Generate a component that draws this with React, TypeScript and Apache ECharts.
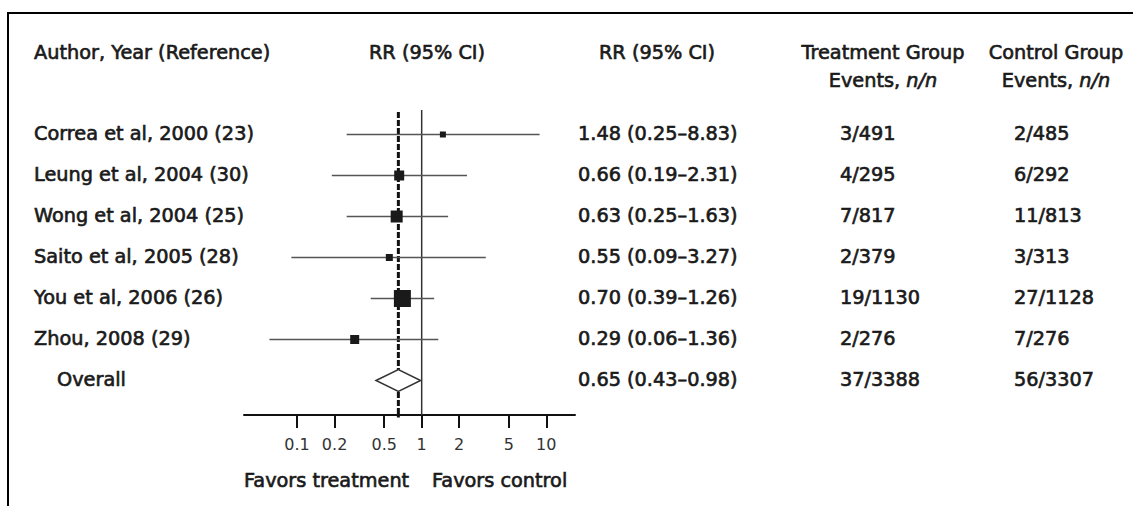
import React, { useEffect, useRef } from "react";
import * as echarts from "echarts";

const studies = [
  "Correa et al, 2000 (23)",
  "Leung et al, 2004 (30)",
  "Wong et al, 2004 (25)",
  "Saito et al, 2005 (28)",
  "You et al, 2006 (26)",
  "Zhou, 2008 (29)",
];
const rr = [1.48, 0.66, 0.63, 0.55, 0.7, 0.29];
const ciLow = [0.25, 0.19, 0.25, 0.09, 0.39, 0.06];
const ciHigh = [8.83, 2.31, 1.63, 3.27, 1.26, 1.36];
const treatmentEvents = ["3/491", "4/295", "7/817", "2/379", "19/1130", "2/276"];
const controlEvents = ["2/485", "6/292", "11/813", "3/313", "27/1128", "7/276"];

const overallLabel = "Overall";
const overallRR = 0.65;
const overallLow = 0.43;
const overallHigh = 0.98;
const overallTreatment = "37/3388";
const overallControl = "56/3307";

const tickValues = [0.1, 0.2, 0.5, 1, 2, 5, 10];
const tickLabels = ["0.1", "0.2", "0.5", "1", "2", "5", "10"];

// visual weights of the study squares (px)
const markerSizes = [6, 10, 12, 7, 17, 9];

const FONT = '"DejaVu Sans", sans-serif';
const FS = 19.3;
const INK = "#1a1a1a";
const STROKE_W = 0.65;

const fmt = (v: number) => v.toFixed(2);

export default function App() {
  const ref = useRef<HTMLDivElement>(null);

  useEffect(() => {
    if (!ref.current) return;
    const chart = echarts.init(ref.current, null, { renderer: "svg" });

    const rows = rr.map((v, i) => [v, i, ciLow[i], ciHigh[i]]);
    const overallRow = 6;

    chart.setOption({
      animation: false,
      backgroundColor: "#ffffff",
      grid: { left: 244, right: 558, top: 93.5, bottom: 91, containLabel: false },
      xAxis: {
        type: "log",
        logBase: 10,
        min: 0.0375,
        max: 17,
        splitLine: { show: false },
        axisLine: { show: true, onZero: false, lineStyle: { color: "#111", width: 2 } },
        axisTick: {
          show: true,
          inside: false,
          length: 13,
          customValues: tickValues,
          lineStyle: { color: "#111", width: 2 },
        },
        axisLabel: {
          show: true,
          customValues: tickValues,
          margin: 21,
          color: "#333",
          fontFamily: FONT,
          fontSize: 16,
          formatter: (v: number) => {
            const k = tickValues.findIndex((t) => Math.abs(t - v) < 1e-9);
            return k >= 0 ? tickLabels[k] : "";
          },
        },
      },
      yAxis: {
        type: "value",
        inverse: true,
        min: -1,
        max: 6.841,
        show: false,
      },
      series: [
        {
          type: "line",
          data: [
            [1, -0.6],
            [1, 6.841],
          ],
          symbol: "none",
          lineStyle: { color: "#333", width: 1.5 },
          silent: true,
          z: 1,
        },
        {
          type: "line",
          data: [
            [overallRR, -0.55],
            [overallRR, 6.9],
          ],
          symbol: "none",
          clip: false,
          lineStyle: { color: "#111", width: 3, type: [6, 2] },
          silent: true,
          z: 2,
        },
        {
          type: "custom",
          data: rows,
          z: 3,
          renderItem: (params: any, api: any) => {
            const i = api.value(1);
            const c = api.coord([api.value(0), i]);
            const lo = api.coord([api.value(2), i]);
            const hi = api.coord([api.value(3), i]);
            const s = markerSizes[params.dataIndex];
            return {
              type: "group",
              children: [
                {
                  type: "line",
                  shape: { x1: lo[0], y1: lo[1], x2: hi[0], y2: hi[1] },
                  style: { stroke: "#555", lineWidth: 1.5 },
                },
                {
                  type: "rect",
                  shape: { x: c[0] - s / 2, y: c[1] - s / 2, width: s, height: s },
                  style: { fill: "#1a1a1a" },
                },
              ],
            };
          },
        },
        {
          type: "custom",
          data: [[overallRR, overallRow, overallLow, overallHigh]],
          z: 3,
          renderItem: (params: any, api: any) => {
            const i = api.value(1);
            const c = api.coord([api.value(0), i]);
            const lo = api.coord([api.value(2), i]);
            const hi = api.coord([api.value(3), i]);
            const h = 11;
            return {
              type: "polygon",
              shape: {
                points: [
                  [lo[0], c[1]],
                  [c[0], c[1] - h],
                  [hi[0], c[1]],
                  [c[0], c[1] + h],
                ],
              },
              style: { fill: "#ffffff", stroke: "#333", lineWidth: 1.5 },
            };
          },
        },
      ],
    });

    const rowY = (i: number) => chart.convertToPixel({ gridIndex: 0 }, [1, i])[1] - 1;

    const txt = (
      x: number,
      y: number,
      text: string,
      align: string = "left",
      extra: any = {}
    ) => ({
      type: "text",
      x,
      y,
      silent: true,
      style: {
        text,
        x: 0,
        y: 0,
        fill: INK,
        stroke: INK,
        lineWidth: STROKE_W,
        fontFamily: FONT,
        fontSize: FS,
        fontWeight: "normal",
        align,
        verticalAlign: "middle",
        ...extra,
      },
    });

    const italicRich = {
      i: {
        fontFamily: FONT,
        fontSize: FS,
        fontStyle: "italic",
        fill: INK,
        stroke: INK,
        lineWidth: STROKE_W,
      },
      n: {
        fontFamily: FONT,
        fontSize: FS,
        fill: INK,
        stroke: INK,
        lineWidth: STROKE_W,
      },
    };
    const richExtra = { rich: italicRich };

    const elements: any[] = [
      // frame
      { type: "line", shape: { x1: 8, y1: 13, x2: 1133, y2: 13 }, style: { stroke: "#000", lineWidth: 2 } },
      { type: "line", shape: { x1: 8, y1: 12, x2: 8, y2: 506 }, style: { stroke: "#000", lineWidth: 2 } },
      // headers
      txt(34, 52, "Author, Year (Reference)"),
      txt(427, 52, "RR (95% CI)", "center"),
      txt(657, 52, "RR (95% CI)", "center"),
      txt(883, 52, "Treatment Group", "center"),
      txt(883, 80, "{n|Events, }{i|n/n}", "center", richExtra),
      txt(1056, 52, "Control Group", "center"),
      txt(1056, 80, "{n|Events, }{i|n/n}", "center", richExtra),
      // footer
      txt(244, 480, "Favors treatment"),
      txt(432, 480, "Favors control"),
    ];

    studies.forEach((name, i) => {
      const y = rowY(i);
      elements.push(txt(34, y, name));
      elements.push(txt(578, y, `${fmt(rr[i])} (${fmt(ciLow[i])}–${fmt(ciHigh[i])})`));
      elements.push(txt(840, y, treatmentEvents[i]));
      elements.push(txt(1014, y, controlEvents[i]));
    });
    const oy = rowY(overallRow);
    elements.push(txt(57, oy, overallLabel));
    elements.push(txt(578, oy, `${fmt(overallRR)} (${fmt(overallLow)}–${fmt(overallHigh)})`));
    elements.push(txt(840, oy, overallTreatment));
    elements.push(txt(1014, oy, overallControl));

    chart.setOption({ graphic: { elements } });

    return () => chart.dispose();
  }, []);

  return (
    <div
      ref={ref}
      style={{ position: "fixed", left: 0, top: 0, width: 1133, height: 506, background: "#fff" }}
    />
  );
}
